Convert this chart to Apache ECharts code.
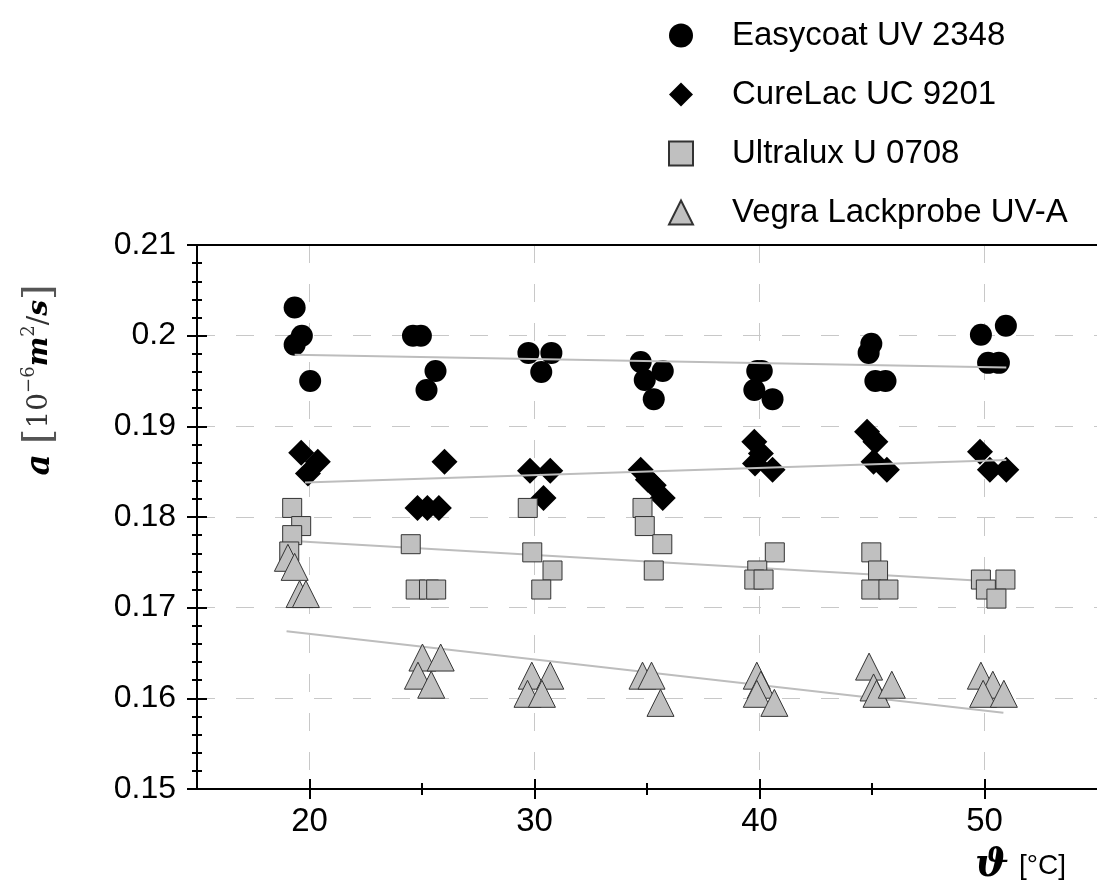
<!DOCTYPE html>
<html>
<head>
<meta charset="utf-8">
<script src="https://cdn.jsdelivr.net/npm/echarts@6/dist/echarts.min.js"></script>
<style>
  html, body { margin: 0; padding: 0; background: #fff; }
  #chart { width: 1097px; height: 896px; }
</style>
</head>
<body>
<div id="chart"></div>
<script>
// measured points [temperature °C, diffusivity 1e-6 m2/s]
const easycoat = [
  [19.34, 0.2031], [19.66, 0.2000], [19.34, 0.1990], [20.03, 0.1950],
  [24.6, 0.2000], [24.95, 0.2000], [25.6, 0.1961], [25.2, 0.1940],
  [29.73, 0.1981], [30.75, 0.1981], [30.3, 0.1960],
  [34.72, 0.1971], [35.7, 0.1961], [34.9, 0.1951], [35.3, 0.1930],
  [39.9, 0.1961], [40.1, 0.1961], [39.77, 0.1940], [40.58, 0.1930],
  [44.97, 0.1991], [44.85, 0.1981], [45.15, 0.1950], [45.6, 0.1950],
  [49.84, 0.2001], [50.95, 0.2011], [50.16, 0.1970], [50.64, 0.1970]
]
const curelac = [
  [19.63, 0.1871], [20.37, 0.1861], [19.93, 0.1848],
  [26.0, 0.1861], [24.8, 0.1810], [25.24, 0.1810], [25.75, 0.1810],
  [29.8, 0.1851], [30.7, 0.1851], [30.4, 0.1821],
  [34.72, 0.1852], [35.04, 0.1841], [35.3, 0.1835], [35.7, 0.1821],
  [39.77, 0.1883], [40.06, 0.1870], [39.8, 0.1859], [40.58, 0.1852],
  [44.78, 0.1894], [45.15, 0.1883], [45.07, 0.1861], [45.66, 0.1852],
  [49.8, 0.1872], [50.24, 0.1852], [50.97, 0.1852]
]
const ultralux = [
  [19.23, 0.1810], [19.63, 0.1790], [19.23, 0.1780], [19.1, 0.1762],
  [24.5, 0.1770], [24.72, 0.1720], [25.31, 0.1720], [25.63, 0.1720],
  [29.7, 0.1810], [29.9, 0.1761], [30.8, 0.1741], [30.3, 0.1720],
  [34.8, 0.1810], [34.9, 0.1790], [35.68, 0.1770], [35.3, 0.1741],
  [40.68, 0.1761], [39.9, 0.1741], [39.77, 0.1731], [40.18, 0.1731],
  [44.97, 0.1761], [45.27, 0.1741], [44.97, 0.1720], [45.73, 0.1720],
  [49.84, 0.1731], [50.93, 0.1731], [50.06, 0.1720], [50.53, 0.1710]
]
const vegra = [
  [19.04, 0.1755], [19.34, 0.1745], [19.56, 0.1715], [19.84, 0.1715],
  [25.02, 0.1645], [25.83, 0.1645], [24.82, 0.1625], [25.41, 0.1615],
  [29.88, 0.1625], [30.7, 0.1625], [29.69, 0.1605], [30.33, 0.1605],
  [34.8, 0.1625], [35.2, 0.1625], [35.6, 0.1595],
  [39.88, 0.1625], [40.06, 0.1615], [39.88, 0.1605], [40.66, 0.1595],
  [44.87, 0.1635], [45.07, 0.1612], [45.2, 0.1605], [45.88, 0.1615],
  [49.84, 0.1625], [50.37, 0.1615], [49.94, 0.1605], [50.86, 0.1605]
]

// linear fits (start, end)
const easycoatFit = [[19.34, 0.1979], [50.97, 0.1965]]
const curelacFit = [[19.8, 0.1838], [50.97, 0.1863]]
const ultraluxFit = [[19.65, 0.1773], [50.97, 0.1728]]
const vegraFit = [[18.98, 0.1674], [50.84, 0.1584]]

const seriesNames = ['Easycoat UV 2348', 'CureLac UC 9201', 'Ultralux U 0708', 'Vegra Lackprobe UV-A']
const xMajor = [20, 30, 40, 50]
const xMinor = [25, 35, 45]

const FONT = 'Liberation Sans, Arial, sans-serif'
const chart = echarts.init(document.getElementById('chart'))

const gridDash = { color: '#c8c8c8', width: 1, type: [18, 21] }
const fitStyle = { color: '#bdbdbd', width: 2 }

const xBase = { type: 'value', gridIndex: 0, min: 15, max: 55, position: 'bottom' }
const yBase = { type: 'value', gridIndex: 0, min: 0.15, max: 0.21, interval: 0.01, position: 'left' }

const fitSeries = (data) => ({
  type: 'line',
  data: data,
  showSymbol: false,
  symbol: 'none',
  silent: true,
  z: 3,
  lineStyle: fitStyle
})

const option = {
  animation: false,
  backgroundColor: '#fff',
  grid: { left: 197, top: 245, width: 904, height: 544, containLabel: false },
  legend: {
    data: [
      { name: seriesNames[0], itemStyle: { color: '#000' } },
      { name: seriesNames[1], itemStyle: { color: '#000' } },
      { name: seriesNames[2] },
      { name: seriesNames[3] }
    ],
    orient: 'vertical',
    left: 663,
    top: 14,
    itemWidth: 24,
    itemHeight: 24,
    itemGap: 26,
    symbolKeepAspect: true,
    formatter: (name) => '{g|}{t|' + name + '}',
    textStyle: {
      fontFamily: FONT,
      fontSize: 33,
      color: '#000',
      rich: {
        g: { width: 34 },
        t: { fontFamily: FONT, fontSize: 33, color: '#000', lineHeight: 33 }
      }
    }
  },
  xAxis: [
    Object.assign({}, xBase, {
      axisLine: { onZero: false, lineStyle: { color: '#000', width: 2 } },
      axisTick: { show: true, customValues: xMajor, length: 10, lineStyle: { color: '#000', width: 2 } },
      axisLabel: { customValues: xMajor, fontFamily: FONT, fontSize: 33, color: '#000', margin: 16 },
      splitLine: { show: true, lineStyle: gridDash }
    }),
    Object.assign({}, xBase, {
      axisLine: { show: false, onZero: false },
      axisTick: { show: true, inside: true, customValues: xMajor, length: 10, lineStyle: { color: '#000', width: 2 } },
      axisLabel: { show: false },
      splitLine: { show: false }
    }),
    Object.assign({}, xBase, {
      axisLine: { show: false, onZero: false },
      axisTick: { show: true, customValues: xMinor, length: 6, lineStyle: { color: '#000', width: 2 } },
      axisLabel: { show: false },
      splitLine: { show: false }
    }),
    Object.assign({}, xBase, {
      axisLine: { show: false, onZero: false },
      axisTick: { show: true, inside: true, customValues: xMinor, length: 6, lineStyle: { color: '#000', width: 2 } },
      axisLabel: { show: false },
      splitLine: { show: false }
    }),
    Object.assign({}, xBase, {
      position: 'top',
      axisLine: { show: true, onZero: false, lineStyle: { color: '#000', width: 2 } },
      axisTick: { show: false },
      axisLabel: { show: false },
      splitLine: { show: false }
    })
  ],
  yAxis: [
    Object.assign({}, yBase, {
      axisLine: { show: true, onZero: false, lineStyle: { color: '#000', width: 2 } },
      axisTick: { show: true, length: 10, lineStyle: { color: '#000', width: 2 } },
      minorTick: { show: true, splitNumber: 5, length: 5, lineStyle: { color: '#000', width: 2 } },
      axisLabel: { fontFamily: FONT, fontSize: 32, color: '#000', margin: 21 },
      splitLine: { show: true, lineStyle: gridDash }
    }),
    Object.assign({}, yBase, {
      axisLine: { show: false, onZero: false },
      axisTick: { show: true, inside: true, length: 10, lineStyle: { color: '#000', width: 2 } },
      minorTick: { show: true, splitNumber: 5, length: 5, lineStyle: { color: '#000', width: 2 } },
      axisLabel: { show: false },
      splitLine: { show: false }
    })
  ],
  series: [
    {
      name: seriesNames[0],
      type: 'scatter',
      data: easycoat,
      symbol: 'circle',
      symbolSize: 22,
      z: 2,
      itemStyle: { color: '#000', opacity: 1 }
    },
    {
      name: seriesNames[1],
      type: 'scatter',
      data: curelac,
      symbol: 'diamond',
      symbolSize: 26,
      z: 2,
      itemStyle: { color: '#000', opacity: 1 }
    },
    {
      name: seriesNames[2],
      type: 'scatter',
      data: ultralux,
      symbol: 'rect',
      symbolSize: 19,
      z: 4,
      itemStyle: { color: '#c0c0c0', borderColor: '#333', borderWidth: 1, opacity: 1 }
    },
    {
      name: seriesNames[3],
      type: 'scatter',
      data: vegra,
      symbol: 'triangle',
      symbolSize: [27, 27],
      z: 4,
      itemStyle: { color: '#c0c0c0', borderColor: '#333', borderWidth: 1, opacity: 1 }
    },
    fitSeries(easycoatFit),
    fitSeries(curelacFit),
    fitSeries(ultraluxFit),
    fitSeries(vegraFit)
  ],
  graphic: [
    {
      type: 'text',
      x: 40,
      y: 380,
      rotation: Math.PI / 2,
      style: {
        text: '{a|a}   {b|[}{n|10}{s|−6}{v|m}{s|2}{n|/}{v|s}{b|]}',
        align: 'center',
        verticalAlign: 'middle',
        fill: '#333',
        rich: {
          a: { fontFamily: 'DejaVu Serif', fontStyle: 'italic', fontWeight: 'bold', fontSize: 33, fill: '#000' },
          b: { fontFamily: 'DejaVu Serif', fontSize: 40, fill: '#555' },
          n: { fontFamily: 'DejaVu Serif', fontSize: 28, fill: '#333' },
          s: { fontFamily: 'DejaVu Serif', fontSize: 18, fill: '#333', verticalAlign: 'top' },
          v: { fontFamily: 'DejaVu Serif', fontStyle: 'italic', fontWeight: 'bold', fontSize: 28, fill: '#000' }
        }
      }
    },
    {
      type: 'text',
      x: 975,
      y: 866,
      style: {
        text: '{t|ϑ}   {u|[°C]}',
        align: 'left',
        verticalAlign: 'middle',
        rich: {
          t: { fontFamily: 'DejaVu Serif', fontStyle: 'italic', fontWeight: 'bold', fontSize: 40, fill: '#000' },
          u: { fontFamily: FONT, fontSize: 28, fill: '#000' }
        }
      }
    }
  ]
}

chart.setOption(option)

window.addEventListener('resize', () => {
  chart.resize()
})
</script>
</body>
</html>
